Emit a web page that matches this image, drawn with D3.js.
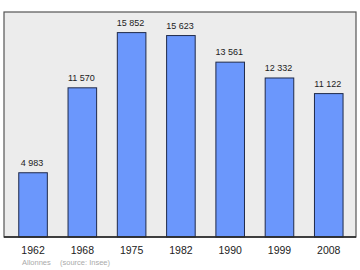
<!DOCTYPE html>
<html><head><meta charset="utf-8">
<script src="https://cdn.jsdelivr.net/npm/d3@7"></script>
<style>html,body{margin:0;padding:0;background:#fff;}svg{display:block;}</style>
</head><body>
<svg id="c" width="360" height="270"></svg>
<script>
const years = ["1962","1968","1975","1982","1990","1999","2008"];
const population = [4983, 11570, 15852, 15623, 13561, 12332, 11122];
const valueLabels = ["4 983","11 570","15 852","15 623","13 561","12 332","11 122"];
const townName = "Allonnes";
const sourceText = "(source: Insee)";

const svg = d3.select("#c");
const frame = {x0: 4, y0: 12, x1: 356, y1: 237};

svg.append("rect").attr("x", frame.x0).attr("y", frame.y0)
  .attr("width", frame.x1 - frame.x0).attr("height", frame.y1 - frame.y0)
  .attr("fill", "#ececec");

const x = d3.scaleBand().domain(years).range([8.4, 353.4]).paddingInner(0.42).paddingOuter(0.21);
const y = d3.scaleLinear().domain([0, 17450]).range([frame.y1, frame.y0]);

svg.selectAll("rect.bar").data(population).enter().append("rect")
  .attr("class", "bar")
  .attr("x", (d, i) => x(years[i]))
  .attr("y", d => y(d))
  .attr("width", x.bandwidth())
  .attr("height", d => y(0) - y(d))
  .attr("fill", "#6b97fc")
  .attr("stroke", "#1f2a4a")
  .attr("stroke-width", 1);

svg.selectAll("text.val").data(population).enter().append("text")
  .attr("class", "val")
  .attr("x", (d, i) => x(years[i]) + x.bandwidth() / 2 - 1)
  .attr("y", d => y(d) - 7)
  .attr("text-anchor", "middle")
  .attr("font-family", "Liberation Sans, Arial, sans-serif")
  .attr("font-size", "9px")
  .attr("fill", "#222")
  .text((d, i) => valueLabels[i]);

svg.append("rect").attr("x", frame.x0).attr("y", frame.y0)
  .attr("width", frame.x1 - frame.x0).attr("height", frame.y1 - frame.y0)
  .attr("fill", "none").attr("stroke", "#555").attr("stroke-width", 1.2);

const axis = d3.axisBottom(x).tickSize(0).tickPadding(0);
const g = svg.append("g").attr("transform", `translate(0,${frame.y1})`).call(axis);
g.select(".domain").attr("stroke", "#222").attr("stroke-width", 1.5)
  .attr("d", `M${frame.x0},0H${frame.x1}`);
g.selectAll("text")
  .attr("font-family", "Liberation Sans, Arial, sans-serif")
  .attr("font-size", "10.5px")
  .attr("fill", "#222")
  .attr("dy", null)
  .attr("y", 17);

svg.append("text").attr("x", 22).attr("y", 265)
  .attr("font-family", "Liberation Sans, Arial, sans-serif")
  .attr("font-size", "7.5px").attr("fill", "#aaa").text(townName);
svg.append("text").attr("x", 60).attr("y", 265)
  .attr("font-family", "Liberation Sans, Arial, sans-serif")
  .attr("font-size", "7.5px").attr("fill", "#aaa").text(sourceText);
</script>
</body></html>
